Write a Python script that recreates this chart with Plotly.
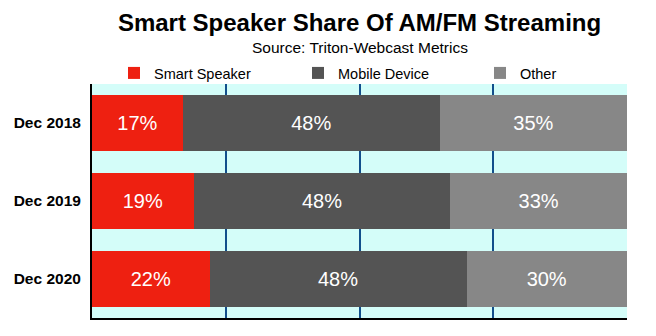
import plotly.graph_objects as go

categories = ["Dec 2018", "Dec 2019", "Dec 2020"]
smart_speaker = [17, 19, 22]
mobile_device = [48, 48, 48]
other = [35, 33, 30]
series_names = ["Smart Speaker", "Mobile Device", "Other"]
colors = ["#ee2011", "#545454", "#878787"]
legend_ids = ["legend", "legend2", "legend3"]
legend_x_px = [114, 298, 480]  # left edges of each legend (pixels)

PLOT_L, PLOT_W, PLOT_T, PLOT_H = 92, 535, 84, 234

fig = go.Figure()
for name, vals, col, lg in zip(series_names, [smart_speaker, mobile_device, other], colors, legend_ids):
    fig.add_trace(go.Bar(
        y=categories, x=vals, name=name, orientation="h", legend=lg,
        showlegend=True,
        marker=dict(color=col, line=dict(width=0)),
        text=[f"{v}%" for v in vals], textposition="inside",
        insidetextanchor="middle",
        textfont=dict(color="white", size=20, family="Liberation Sans, Arial"),
        width=0.72,
    ))

leg_common = dict(orientation="h", xanchor="left", yanchor="middle",
                  y=1 + (PLOT_T - 73) / PLOT_H, font=dict(size=14.5, color="black"),
                  bgcolor="rgba(0,0,0,0)", borderwidth=0)
legends = {}
for lg, px in zip(legend_ids, legend_x_px):
    legends[lg] = dict(leg_common, x=(px - PLOT_L) / PLOT_W)

fig.update_layout(
    barmode="stack",
    showlegend=True,
    width=656, height=336,
    margin=dict(l=PLOT_L, r=656 - PLOT_L - PLOT_W, t=PLOT_T, b=336 - PLOT_T - PLOT_H),
    paper_bgcolor="white",
    plot_bgcolor="#d4fdf9",
    font=dict(family="Liberation Sans, Arial", color="black", size=13),
    title=dict(text="<b>Smart Speaker Share Of AM/FM Streaming</b>",
               xref="paper", x=0.5, xanchor="center", y=1 - 23 / 336, yanchor="middle",
               font=dict(size=24, color="black")),
    annotations=[dict(text="Source: Triton-Webcast Metrics", xref="paper", yref="paper",
                      x=0.5, y=1 + (PLOT_T - 47) / PLOT_H, xanchor="center", yanchor="middle",
                      showarrow=False, font=dict(size=15.5, color="black"))],
    **legends,
)
fig.update_xaxes(range=[0, 100], tickvals=[25, 50, 75, 100], showticklabels=False,
                 showgrid=True, gridcolor="#124f8c", gridwidth=1.5,
                 showline=True, linecolor="black", linewidth=2, zeroline=False,
                 fixedrange=True)
fig.update_yaxes(autorange="reversed", showline=True, linecolor="black", linewidth=2,
                 tickfont=dict(size=15.5, color="black", weight="bold"),
                 ticks="outside", ticklen=6, tickcolor="rgba(0,0,0,0)",
                 showgrid=False)

fig.write_html("out.html")
